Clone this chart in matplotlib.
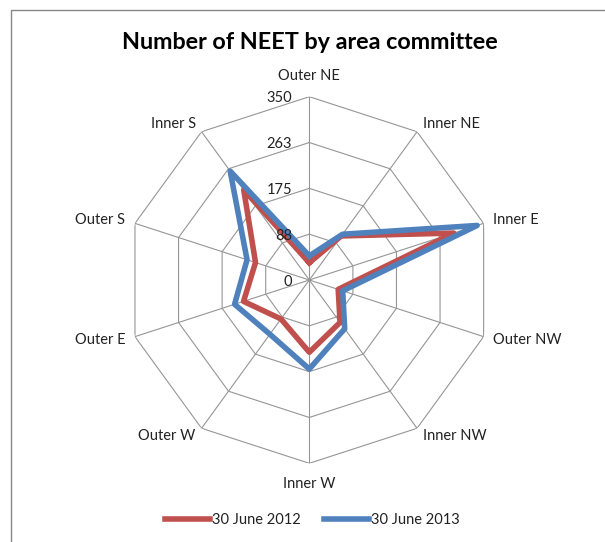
import numpy as np
import matplotlib
matplotlib.use("Agg")
import matplotlib.pyplot as plt
from matplotlib.patches import Rectangle

categories = ["Outer NE", "Inner NE", "Inner E", "Outer NW", "Inner NW",
              "Inner W", "Outer W", "Outer E", "Outer S", "Inner S"]
values_2012 = [33, 104, 290, 58, 100, 138, 92, 132, 108, 213]
values_2013 = [46, 108, 337, 67, 115, 170, 128, 150, 125, 257]
series_labels = ["30 June 2012", "30 June 2013"]
tick_values = [0, 87.5, 175, 262.5, 350]
tick_labels = ["0", "88", "175", "263", "350"]
r_max = 350

W, H = 605, 542
fig = plt.figure(figsize=(W / 100, H / 100), dpi=100)
plt.rcParams['font.family'] = ['Lato', 'DejaVu Sans']

# chart border (cropped at right/bottom)
fig.patches.append(Rectangle((11 / W, -0.1), 1.2, 1 - 10 / H + 0.1,
                             transform=fig.transFigure, fill=False,
                             edgecolor='#878787', lw=1.0))

cx, cy, rad = 309.3, 280.0, 183.3
ax = fig.add_axes([(cx - rad) / W, (H - cy - rad) / H, 2 * rad / W, 2 * rad / H],
                  projection='polar')
ax.set_theta_zero_location('N')
ax.set_theta_direction(-1)
ax.set_ylim(0, r_max)
ax.axis('off')

n = len(categories)
angles = np.arange(n) * 2 * np.pi / n
closed = np.concatenate([angles, angles[:1]])

grid_col = '#969696'
for tv in tick_values[1:]:
    ax.plot(closed, [tv] * (n + 1), color=grid_col, lw=0.8, zorder=1)
for a in angles:
    ax.plot([a, a], [0, r_max], color=grid_col, lw=0.8, zorder=1)

ax.plot(closed, list(values_2012) + [values_2012[0]], color='#C0504D', lw=4.0,
        solid_joinstyle='round', zorder=3, label=series_labels[0])
ax.plot(closed, list(values_2013) + [values_2013[0]], color='#4F81BD', lw=4.0,
        solid_joinstyle='round', zorder=4, label=series_labels[1])

txt_col = '#222222'
for tv, tl in zip(tick_values, tick_labels):
    ax.annotate(tl, xy=(0, tv), xytext=(-17, -1.5), textcoords='offset pixels',
                ha='right', va='center', fontsize=10.5, color=txt_col, zorder=5)

for a, lab in zip(angles, categories):
    sx, sy = np.sin(a), np.cos(a)
    if abs(sx) < 1e-6:
        off = (0, 21 if sy > 0 else -21)
        ha = 'center'
    else:
        off = (10 * sx, 10 * sy)
        ha = 'left' if sx > 0 else 'right'
    ax.annotate(lab, xy=(a, r_max), xytext=off, textcoords='offset pixels',
                ha=ha, va='center', fontsize=10.5, color=txt_col)

fig.text(0.513, 1 - 42 / H, "Number of NEET by area committee", ha='center',
         va='center', fontsize=16.8, fontweight='bold', color='#000000')

fig.legend(loc='center', bbox_to_anchor=(0.516, 22 / H), ncol=2, frameon=False,
           fontsize=10.5, handlelength=3.1, handletextpad=0.1, columnspacing=1.6,
           labelcolor=txt_col)

fig.savefig('out.png', dpi=100)
